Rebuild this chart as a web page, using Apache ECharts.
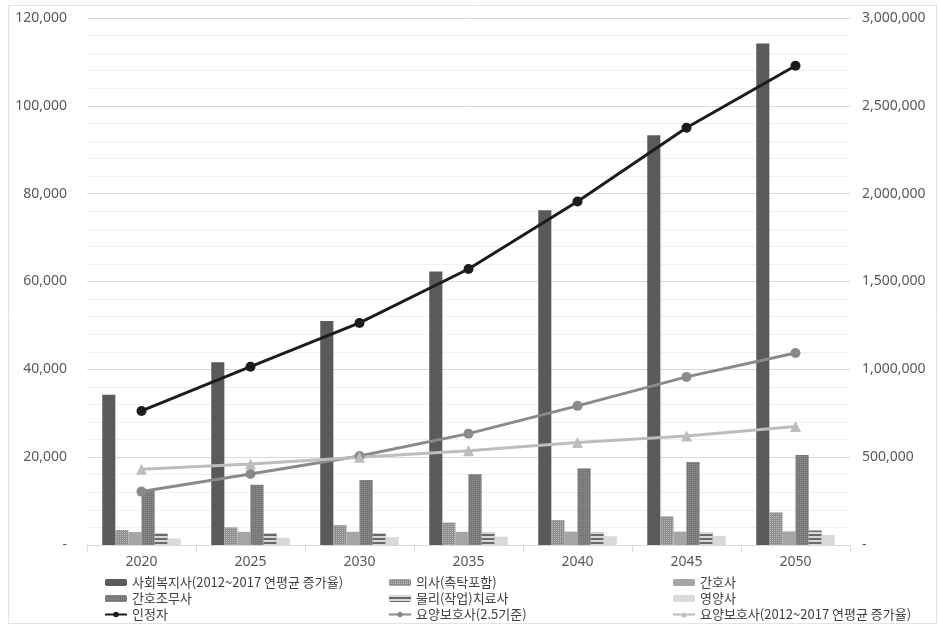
<!DOCTYPE html>
<html>
<head>
<meta charset="utf-8">
<script src="https://cdn.jsdelivr.net/npm/echarts@6/dist/echarts.min.js"></script>
<style>
  html, body { margin: 0; padding: 0; background: #fff; }
  #chart { width: 940px; height: 628px; }
</style>
</head>
<body>
<div id="chart"></div>
<script>
// 연도
const years = ['2020', '2025', '2030', '2035', '2040', '2045', '2050'];

// 직종별 인력 수요 (왼쪽 축)
const socialWorker = [34200, 41600, 51000, 62300, 76200, 93300, 114200];
const doctor       = [3400, 4000, 4500, 5100, 5700, 6500, 7400];
const nurse        = [2950, 3000, 3000, 3000, 3050, 3050, 3100];
const nurseAide    = [12700, 13700, 14800, 16100, 17400, 18900, 20500];
const therapist    = [2600, 2650, 2700, 2800, 2850, 2950, 3300];
const dietitian    = [1500, 1650, 1800, 1900, 2000, 2100, 2300];

// 인정자 및 요양보호사 (오른쪽 축)
const certified    = [763000, 1015000, 1264000, 1571000, 1955000, 2375000, 2728000];
const careWorker25 = [304000, 404000, 507000, 634000, 792000, 957000, 1093000];
const careWorkerGr = [431000, 461000, 499000, 537000, 583000, 621000, 674000];

// 축 눈금
const leftMax = 120000, leftStep = 20000;
const rightMax = 3000000, rightStep = 500000;

const fmt = v => (v === 0 ? '-' : v.toLocaleString('en-US'));
const numFont = '"Noto Sans", "Open Sans", sans-serif';
const krFont = '"Noto Sans CJK KR", "Noto Sans", sans-serif';

const chart = echarts.init(document.getElementById('chart'));

function bar(name, data, color, decal) {
  const s = {
    name, type: 'bar', yAxisIndex: 0, data,
    barGap: '0%', barCategoryGap: '28%',
    itemStyle: { color }
  };
  if (decal) s.itemStyle.decal = decal;
  return s;
}

function line(name, data, color, symbol, size) {
  return {
    name, type: 'line', yAxisIndex: 1, data,
    symbol, symbolSize: size, showSymbol: true,
    lineStyle: { color, width: 3 },
    itemStyle: { color },
    z: 5
  };
}

const dotDecal = (c) => ({ symbol: 'rect', symbolSize: 1, dashArrayX: [1, 1], dashArrayY: [1, 1], color: c, rotation: 0 });
const stripeDecal = { symbol: 'rect', symbolSize: 1, dashArrayX: [1, 0], dashArrayY: [1.5, 1.5], color: 'rgba(230,230,230,0.9)', rotation: 0 };

const legendText = { fontFamily: krFont, fontSize: 13, color: '#404040' };
const legendCommon = {
  orient: 'vertical', top: 576, itemGap: 3,
  itemWidth: 22, itemHeight: 7,
  textStyle: legendText, padding: 0, selectedMode: false
};

chart.setOption({
  animation: false,
  backgroundColor: '#ffffff',
  grid: { left: 87, right: 90, top: 18, bottom: 83, containLabel: false },
  legend: [
    Object.assign({}, legendCommon, { left: 104, data: ['사회복지사(2012~2017 연평균 증가율)', '간호조무사', '인정자'] }),
    Object.assign({}, legendCommon, { left: 388, data: ['의사(촉탁포함)', '물리(작업)치료사', '요양보호사(2.5기준)'] }),
    Object.assign({}, legendCommon, { left: 672, data: ['간호사', '영양사', '요양보호사(2012~2017 연평균 증가율)'] })
  ],
  xAxis: {
    type: 'category', data: years,
    axisLine: { lineStyle: { color: '#d9d9d9' } },
    axisTick: { show: true, length: 7, lineStyle: { color: '#d9d9d9' } },
    axisLabel: { color: '#595959', fontSize: 14, fontFamily: numFont, margin: 10 }
  },
  yAxis: [
    {
      type: 'value', min: 0, max: leftMax, interval: leftStep,
      axisLine: { show: false }, axisTick: { show: false },
      axisLabel: { color: '#595959', fontSize: 14, fontFamily: numFont, margin: 20, formatter: fmt },
      splitLine: { lineStyle: { color: '#d9d9d9' } },
      minorTick: { show: false, splitNumber: 5 },
      minorSplitLine: { show: true, lineStyle: { color: '#f0f0f0' } }
    },
    {
      type: 'value', min: 0, max: rightMax, interval: rightStep, position: 'right',
      axisLine: { show: false }, axisTick: { show: false },
      axisLabel: { color: '#595959', fontSize: 14, fontFamily: numFont, margin: 12, formatter: fmt },
      splitLine: { show: false }
    }
  ],
  graphic: [{
    type: 'rect', shape: { x: 8.5, y: 5.5, width: 928, height: 618 },
    style: { fill: 'none', stroke: '#e4e4e4', lineWidth: 1 }, silent: true, z: -10
  }],
  series: [
    bar('사회복지사(2012~2017 연평균 증가율)', socialWorker, '#5a5a5a'),
    bar('의사(촉탁포함)', doctor, '#8e8e8e', dotDecal('rgba(200,200,200,0.8)')),
    bar('간호사', nurse, '#a5a5a5'),
    bar('간호조무사', nurseAide, '#777777', dotDecal('rgba(150,150,150,0.8)')),
    bar('물리(작업)치료사', therapist, '#6a6a6a', stripeDecal),
    bar('영양사', dietitian, '#d9d9d9'),
    line('인정자', certified, '#1c1c1c', 'circle', 10),
    line('요양보호사(2.5기준)', careWorker25, '#8a8a8a', 'circle', 10),
    line('요양보호사(2012~2017 연평균 증가율)', careWorkerGr, '#bdbdbd', 'triangle', 11)
  ]
});
</script>
</body>
</html>
